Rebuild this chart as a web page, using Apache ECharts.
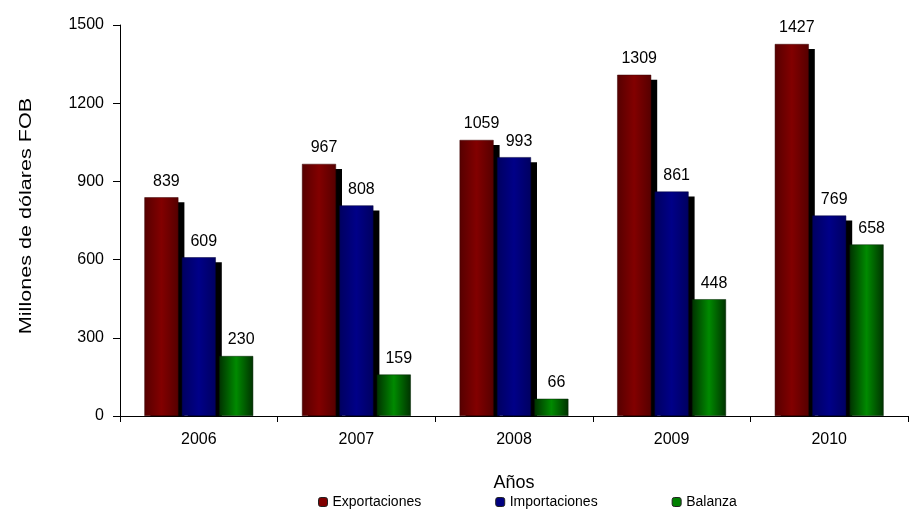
<!DOCTYPE html>
<html>
<head>
<meta charset="utf-8">
<script src="https://cdn.jsdelivr.net/npm/echarts@6/dist/echarts.min.js"></script>
<style>
  html, body { margin: 0; padding: 0; background: #fff; }
  #chart { width: 909px; height: 514px; }
</style>
</head>
<body>
<div id="chart"></div>
<script>
const years = ['2006', '2007', '2008', '2009', '2010']
const exportaciones = [839, 967, 1059, 1309, 1427]
const importaciones = [609, 808, 993, 861, 769]
const balanza = [230, 159, 66, 448, 658]

const chart = echarts.init(document.getElementById('chart'))

const BAR_W = 34
const BAR_GAP = 0.1 // fraction of bar width
const FONT = 'Liberation Sans'

const hGrad = (edge, mid) => new echarts.graphic.LinearGradient(0, 0, 1, 0, [
  { offset: 0, color: edge },
  { offset: 0.5, color: mid },
  { offset: 1, color: edge }
])

const labelStyle = {
  show: true,
  position: 'top',
  distance: 8,
  offset: [5, 0],
  color: '#000',
  fontSize: 16,
  fontFamily: FONT
}

// black drop shadow behind a bar, drawn from the bar's own axis coords
const shadowSeries = (data, slot) => ({
  type: 'custom',
  data: data,
  z: 1,
  silent: true,
  renderItem: function (params, api) {
    const idx = api.value(0)
    const top = api.coord([idx, api.value(1)])
    const base = api.coord([idx, 0])
    const gap = BAR_W * BAR_GAP
    const total = BAR_W * 3 + gap * 2
    const x = top[0] - total / 2 + slot * (BAR_W + gap) + 6
    const y = top[1] + 5
    return {
      type: 'rect',
      shape: { x: x, y: y, width: BAR_W, height: base[1] - y },
      style: { fill: '#000' }
    }
  }
})

const option = {
  animation: false,
  grid: { left: 120, right: 1, top: 25, bottom: 98 },
  graphic: [{
    type: 'text',
    x: 26,
    y: 216,
    rotation: Math.PI / 2,
    scaleX: 1.27,
    style: {
      text: 'Millones de dólares FOB',
      font: '17px "Liberation Sans"',
      fill: '#000',
      align: 'center',
      verticalAlign: 'middle'
    }
  }],
  legend: {
    bottom: 0,
    left: 313,
    itemWidth: 9,
    itemHeight: 9,
    itemGap: 74,
    textStyle: { fontSize: 14, color: '#000', fontFamily: FONT },
    data: [
      { name: 'Exportaciones', itemStyle: { color: '#800000', borderColor: '#222', borderWidth: 1 } },
      { name: 'Importaciones', itemStyle: { color: '#000080', borderColor: '#222', borderWidth: 1 } },
      { name: 'Balanza', itemStyle: { color: '#008000', borderColor: '#222', borderWidth: 1 } }
    ]
  },
  xAxis: {
    type: 'category',
    data: years,
    name: 'Años',
    nameLocation: 'middle',
    nameGap: 58,
    nameTextStyle: { fontSize: 18, color: '#000', fontFamily: FONT },
    axisLine: { lineStyle: { color: '#000' } },
    axisTick: { show: true, length: 6, lineStyle: { color: '#000' } },
    axisLabel: { fontSize: 16, color: '#000', margin: 16, fontFamily: FONT }
  },
  yAxis: {
    type: 'value',
    min: 0,
    max: 1500,
    interval: 300,
    axisLine: { show: true, lineStyle: { color: '#000' } },
    axisTick: { show: true, length: 7, lineStyle: { color: '#000' } },
    axisLabel: {
      fontSize: 16, color: '#000', margin: 16, fontFamily: FONT,
      formatter: function (v) { return String(v) }
    },
    splitLine: { show: false }
  },
  series: [
    shadowSeries(exportaciones.map((v, i) => [i, v]), 0),
    shadowSeries(importaciones.map((v, i) => [i, v]), 1),
    {
      name: 'Exportaciones',
      type: 'bar',
      data: exportaciones,
      barWidth: BAR_W,
      barGap: (BAR_GAP * 100) + '%',
      z: 2,
      label: labelStyle,
      itemStyle: {
        color: hGrad('#560000', '#820000'),
        borderColor: '#3a0000',
        borderWidth: 0.5
      }
    },
    {
      name: 'Importaciones',
      type: 'bar',
      data: importaciones,
      barWidth: BAR_W,
      barGap: (BAR_GAP * 100) + '%',
      z: 2,
      label: labelStyle,
      itemStyle: {
        color: hGrad('#000060', '#000088'),
        borderColor: '#00003a',
        borderWidth: 0.5
      }
    },
    {
      name: 'Balanza',
      type: 'bar',
      data: balanza,
      barWidth: BAR_W,
      barGap: (BAR_GAP * 100) + '%',
      z: 2,
      label: labelStyle,
      itemStyle: {
        color: hGrad('#003200', '#008a00'),
        borderColor: '#002200',
        borderWidth: 0.5
      }
    }
  ]
}

chart.setOption(option)
</script>
</body>
</html>
